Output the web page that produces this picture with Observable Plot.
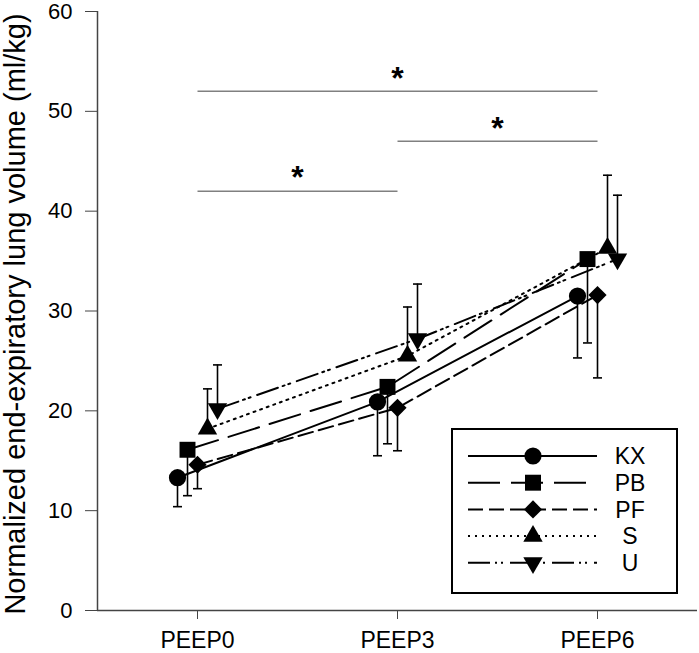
<!DOCTYPE html>
<html><head><meta charset="utf-8">
<script src="https://cdn.jsdelivr.net/npm/d3@7"></script>
<script src="https://cdn.jsdelivr.net/npm/@observablehq/plot@0.6"></script>
<style>html,body{margin:0;padding:0;background:#fff;} svg{display:block;}</style>
</head><body><div id="chart"></div>
<script>
// ---- data ----
const categories = ["PEEP0", "PEEP3", "PEEP6"];
const seriesNames = ["KX", "PB", "PF", "S", "U"];
const KX = [13.3, 20.9, 31.5];
const PB = [16.1, 22.4, 35.2];
const PF = [14.6, 20.3, 31.6];
const S  = [18.2, 25.5, 36.3];
const U  = [20.2, 27.2, 35.2];
const KX_sd = [2.9, 5.4, 6.2];
const PB_sd = [4.6, 5.7, 8.4];
const PF_sd = [2.4, 4.3, 8.3];
const S_sd  = [4.0, 4.9, 7.3];
const U_sd  = [4.4, 5.5, 6.4];
// error bars shown on one side only: -1 = below, +1 = above
const errSide = {KX: -1, PB: -1, PF: -1, S: 1, U: 1};
const yTicks = [0, 10, 20, 30, 40, 50, 60];
const sigFrom = ["PEEP0", "PEEP3", "PEEP0"];
const sigTo   = ["PEEP3", "PEEP6", "PEEP6"];
const sigY    = [42, 47, 52];
const sigMark = ["*", "*", "*"];
const yLabel = "Normalized end-expiratory lung volume (ml/kg)";

const means = {KX, PB, PF, S, U};
const sds = {KX: KX_sd, PB: PB_sd, PF: PF_sd, S: S_sd, U: U_sd};

// ---- styles ----
const triDown = {
  draw(context, size) {
    const y = -Math.sqrt(size / (Math.sqrt(3) * 3));
    context.moveTo(0, -y * 2);
    context.lineTo(-Math.sqrt(3) * y, y);
    context.lineTo(Math.sqrt(3) * y, y);
    context.closePath();
  }
};
const capSym = {draw(context, size) { context.moveTo(-4.5, 0); context.lineTo(4.5, 0); }};
const styles = {
  KX: {symbol: d3.symbolCircle,   r: 8.6, dash: null,                 dx: -20},
  PB: {symbol: d3.symbolSquare,   r: 9.0, dash: "32,11",              dx: -10},
  PF: {symbol: d3.symbolDiamond2, r: 8.2, dash: "15,6",               dx: 0},
  S:  {symbol: d3.symbolTriangle, r: 7.2, dash: "2,5",                dx: 10},
  U:  {symbol: triDown,           r: 7.2, dash: "22,5,2,4,2,7",       dx: 20}
};

const rows = seriesNames.flatMap(name => categories.map((c, i) => ({
  name, i, cat: c, mean: means[name][i], end: means[name][i] + errSide[name] * sds[name][i]
})));
const sigRows = sigY.map((y, k) => ({
  x1: categories.indexOf(sigFrom[k]), x2: categories.indexOf(sigTo[k]), y, t: sigMark[k]
}));

const seriesMarks = seriesNames.map(name => {
  const st = styles[name];
  const d = rows.filter(r => r.name === name);
  return Plot.line(d, {x: "i", y: "mean", stroke: "black", strokeWidth: 2, strokeDasharray: st.dash, dx: st.dx});
});
const errMarks = seriesNames.flatMap(name => {
  const st = styles[name];
  const d = rows.filter(r => r.name === name);
  return [
    Plot.ruleX(d, {x: "i", y1: "mean", y2: "end", stroke: "black", strokeWidth: 1.6, dx: st.dx}),
    Plot.dot(d, {x: "i", y: "end", symbol: capSym, r: 3, fill: "none", stroke: "black", strokeWidth: 1.6, dx: st.dx})
  ];
});
const dotMarks = seriesNames.map(name => {
  const st = styles[name];
  const d = rows.filter(r => r.name === name);
  return Plot.dot(d, {x: "i", y: "mean", symbol: st.symbol, r: st.r, fill: "black", stroke: "none", dx: st.dx});
});

function legendMark() {
  const g = d3.create("svg:g");
  const bx = 452, by = 429, bw = 225, bh = 164;
  g.append("rect").attr("x", bx).attr("y", by).attr("width", bw).attr("height", bh)
    .attr("fill", "white").attr("stroke", "black").attr("stroke-width", 2);
  seriesNames.forEach((name, k) => {
    const st = styles[name];
    const cy = by + 27 + k * 26.7;
    g.append("line").attr("x1", bx + 16).attr("x2", bx + 145).attr("y1", cy).attr("y2", cy)
      .attr("stroke", "black").attr("stroke-width", 2).attr("stroke-dasharray", st.dash);
    g.append("path").attr("transform", `translate(${bx + 81},${cy})`)
      .attr("d", d3.symbol().type(st.symbol).size(Math.PI * st.r * st.r)())
      .attr("fill", "black");
    g.append("text").attr("x", bx + 178).attr("y", cy).attr("dy", "0.36em")
      .attr("font-size", 23).attr("fill", "black").text(name);
  });
  return g.node();
}

const chart = Plot.plot({
  width: 699,
  height: 653,
  marginLeft: 97,
  marginRight: 2,
  marginTop: 11,
  marginBottom: 43,
  style: {fontFamily: "'Liberation Sans', Arial, sans-serif", fontSize: "22px", background: "white", color: "black"},
  x: {domain: [-0.5, 2.5], axis: null},
  y: {domain: [0, 60], axis: null},
  marks: [
    Plot.axisY({ticks: yTicks, tickSize: 12, tickPadding: 13, fontSize: 22, stroke: "#444", fill: "black", label: null}),
    Plot.axisX({ticks: [0, 1, 2], tickFormat: i => categories[i], tickSize: 9, tickPadding: 12, fontSize: 23, stroke: "#444", fill: "black", label: null}),
    Plot.ruleX([-0.5], {stroke: "#444", strokeWidth: 1.5}),
    Plot.ruleY([0], {stroke: "#444", strokeWidth: 1.5}),
    Plot.text([yLabel], {frameAnchor: "left", textAnchor: "middle", rotate: -90, dx: -82, dy: 3, fontSize: 29, fill: "black"}),
    Plot.link(sigRows, {x1: "x1", x2: "x2", y1: "y", y2: "y", stroke: "#808080", strokeWidth: 1.5}),
    Plot.text(sigRows, {x: d => (d.x1 + d.x2) / 2, y: "y", text: "t", fontSize: 32, fontWeight: "bold", dy: -13, fill: "black"}),
    ...seriesMarks,
    ...errMarks,
    ...dotMarks,
    legendMark
  ]
});
document.getElementById("chart").appendChild(chart);
</script>
</body></html>
